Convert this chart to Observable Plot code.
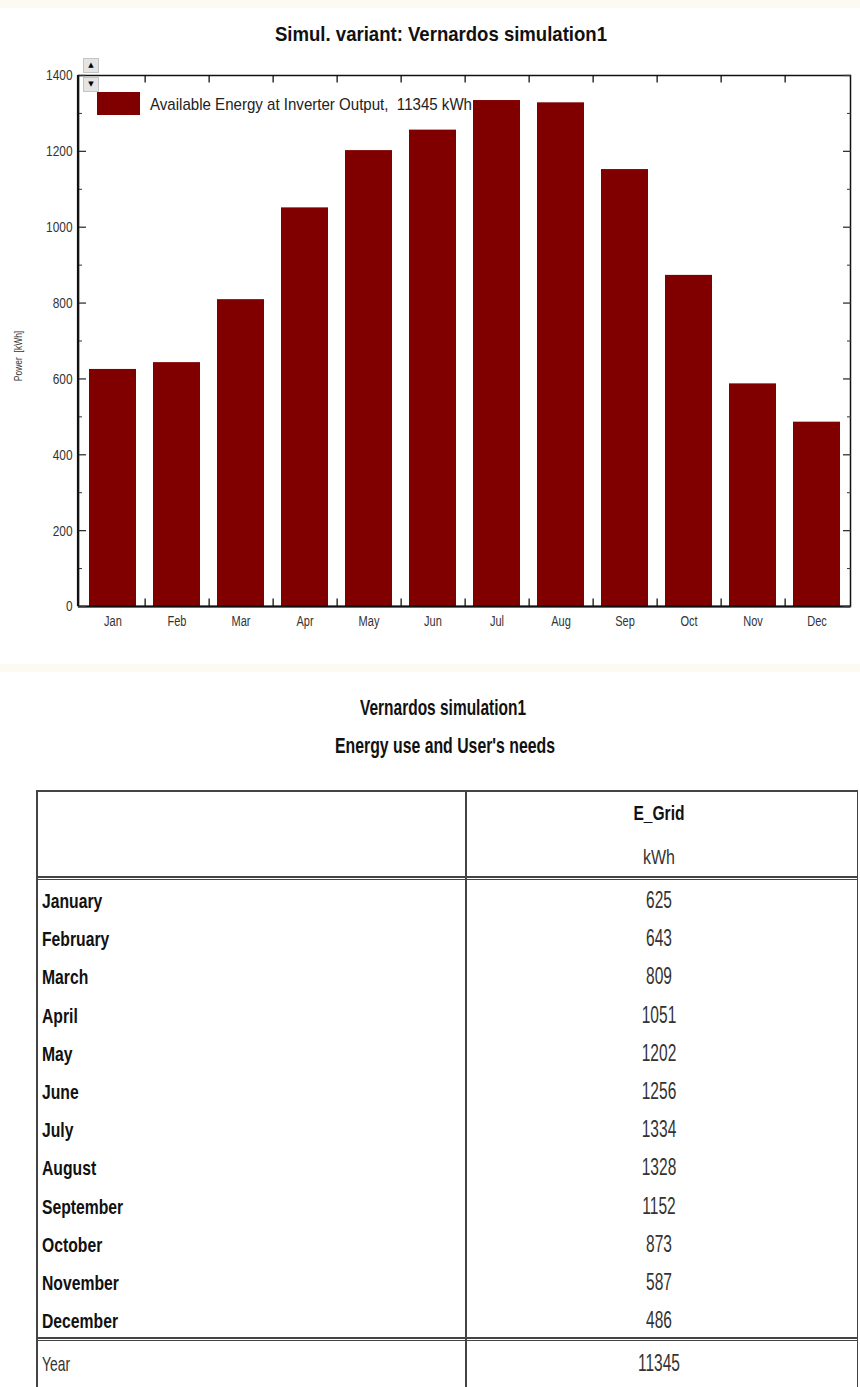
<!DOCTYPE html>
<html>
<head>
<meta charset="utf-8">
<script src="https://cdn.jsdelivr.net/npm/d3@7"></script>
<script src="https://cdn.jsdelivr.net/npm/@observablehq/plot@0.6"></script>
<style>
  html, body { margin: 0; padding: 0; background: #fff; width: 860px; height: 1387px; overflow: hidden; }
  #page { position: relative; width: 860px; height: 1387px; font-family: "Liberation Sans", Arial, sans-serif; }
  .band { position: absolute; left: 0; width: 860px; height: 8px; background: #fcfaf1; }
  #chart { position: absolute; left: 0; top: 50px; }
  .sw { position: absolute; left: 97px; top: 92px; width: 43px; height: 23px; background: #800000; }
  .btn { position: absolute; left: 83px; width: 16px; height: 15px; background: #e4e4e4; border: 1px solid #c4c4c4; box-sizing: border-box; font-size: 7px; line-height: 13px; text-align: center; color: #000; font-family: "DejaVu Sans", sans-serif; }
  .t { position: absolute; white-space: pre; line-height: 1; }
  .ln { position: absolute; background: #444; }
</style>
</head>
<body>
<div id="page">
  <div class="band" style="top:0"></div>
  <div id="chart"></div>
  <div class="btn" style="top:58px">&#9650;</div>
  <div class="btn" style="top:77px">&#9660;</div>
  <div class="sw"></div>
  <div class="band" style="top:664px"></div>
</div>
<script>
// ---- data ----
const chartTitle = "Simul. variant: Vernardos simulation1";
const legendLabel = "Available Energy at Inverter Output,  11345 kWh";
const yLabel = "Power  [kWh]";
const months = ["Jan","Feb","Mar","Apr","May","Jun","Jul","Aug","Sep","Oct","Nov","Dec"];
const monthNames = ["January","February","March","April","May","June","July","August","September","October","November","December"];
const eGrid = [625, 643, 809, 1051, 1202, 1256, 1334, 1328, 1152, 873, 587, 486];
const yearTotal = 11345;
const yMajor = [0, 200, 400, 600, 800, 1000, 1200, 1400];
const yMinor = [100, 300, 500, 700, 900, 1100, 1300];
const tableTitle = "Vernardos simulation1";
const tableSubtitle = "Energy use and User's needs";
const colHeader = "E_Grid";
const colUnit = "kWh";
const yearLabel = "Year";

const page = document.getElementById("page");

// text helper: places real text, optionally condensed to a target width
function measure(text, size, weight) {
  const s = document.createElement("span");
  s.className = "t";
  s.style.fontSize = size + "px";
  s.style.fontWeight = weight;
  s.style.visibility = "hidden";
  s.textContent = text;
  page.appendChild(s);
  const w = s.getBoundingClientRect().width;
  s.remove();
  return w;
}
function place(text, {x, y, size, weight = "normal", align = "center", sx = 1, color = "#111"}) {
  const s = document.createElement("span");
  s.className = "t";
  s.textContent = text;
  s.style.fontSize = size + "px";
  s.style.fontWeight = weight;
  s.style.color = color;
  s.style.left = x + "px";
  s.style.top = y + "px";
  if (align === "center") {
    s.style.transform = `translate(-50%, -50%) scaleX(${sx})`;
    s.style.transformOrigin = "50% 50%";
  } else {
    s.style.transform = `translateY(-50%) scaleX(${sx})`;
    s.style.transformOrigin = "0 50%";
  }
  page.appendChild(s);
  return s;
}
function fit(text, target, size, weight) { return target / measure(text, size, weight); }
function line(x, y, w, h) {
  const d = document.createElement("div");
  d.className = "ln";
  Object.assign(d.style, {left: x + "px", top: y + "px", width: w + "px", height: h + "px"});
  page.appendChild(d);
}

// ---- titles ----
place(chartTitle, {x: 441, y: 33, size: 21, weight: "bold", sx: fit(chartTitle, 332, 21, "bold")});
place(legendLabel, {x: 150, y: 104, size: 17, align: "left", color: "#222", sx: fit(legendLabel, 322, 17, "normal")});

// ---- chart ----
const data = months.map((m, i) => ({month: m, value: eGrid[i]}));
const W = 860, H = 590, ML = 78, MR = 10, MT = 25, MB = 34;
const pIn = 0.27, pOut = 0.14;
const step = (W - ML - MR) / (months.length - pIn + 2 * pOut);

const chart = Plot.plot({
  width: W, height: H,
  marginLeft: ML, marginRight: MR, marginTop: MT, marginBottom: MB,
  style: {fontFamily: '"Liberation Sans", Arial, sans-serif', fontSize: "14px", color: "#333", background: "transparent", overflow: "visible"},
  x: {domain: months, paddingInner: pIn, paddingOuter: pOut, label: null},
  y: {domain: [0, 1400], label: null},
  marks: [
    Plot.barY(data, {x: "month", y: "value", fill: "#800000"}),
    Plot.frame({stroke: "#111", strokeWidth: 1.5}),
    Plot.ruleY([0], {stroke: "#111", strokeWidth: 2}),
    Plot.axisX({tickSize: 0, tickPadding: 9, label: null, fill: "#333", fontSize: 13}),
    Plot.axisY({ticks: yMajor, tickSize: -8, tickPadding: 14, tickFormat: d => String(d), label: null, fill: "#333", strokeWidth: 1.3}),
    Plot.axisY({ticks: yMinor, tickSize: -4, tickFormat: () => "", label: null}),
    Plot.axisY({ticks: yMajor, anchor: "right", tickSize: -8, tickFormat: () => "", label: null, strokeWidth: 1.3}),
    Plot.axisY({ticks: yMinor, anchor: "right", tickSize: -4, tickFormat: () => "", label: null}),
    Plot.ruleX(months.slice(0, -1), {x: d => d, y1: 0, y2: 20, dx: step / 2, stroke: "#111", strokeWidth: 1.3}),
    Plot.ruleX(months.slice(0, -1), {x: d => d, y1: 1380, y2: 1400, dx: step / 2, stroke: "#111", strokeWidth: 1.3}),
    Plot.text([yLabel], {text: d => d, frameAnchor: "left", textAnchor: "middle", dx: -60, dy: 15, rotate: -90, fontSize: 10, fill: "#333"})
  ]
});
document.getElementById("chart").appendChild(chart);
{
  const s = d3.select(chart);
  s.append("line").attr("x1", ML).attr("x2", ML).attr("y1", MT).attr("y2", H - MB)
    .attr("stroke", "#111").attr("stroke-width", 2.2);
  // condense tick labels slightly, like the reference
  s.selectAll('g[aria-label$="tick label"] text').each(function() {
    const tr = this.getAttribute("transform") || "";
    this.setAttribute("transform", tr + " scale(0.85,1.1)");
  });
  s.selectAll('g[aria-label="text"] text').each(function() {
    const tr = this.getAttribute("transform") || "";
    this.setAttribute("transform", tr + " scale(0.85,1.1)");
  });
}

// ---- table headings ----
place(tableTitle, {x: 443, y: 708, size: 22, weight: "bold", sx: fit(tableTitle, 166, 22, "bold")});
place(tableSubtitle, {x: 445, y: 746, size: 22, weight: "bold", sx: fit(tableSubtitle, 220, 22, "bold")});

// ---- table ----
const TL = 36, TR = 858, TT = 790, DIV = 465;
const rowY0 = 900, rowStep = 38.2;
const sepY = 876, yearSepY = 1337;
// borders
line(TL, TT, TR - TL, 1.5);
line(TL, TT, 1.5, 1387 - TT);
line(TR - 1.5, TT, 1.5, 1387 - TT);
line(DIV, TT, 1.5, 1387 - TT);
line(TL, sepY, TR - TL, 1.5);
line(TL, sepY + 3, TR - TL, 1);
line(TL, yearSepY, TR - TL, 1.5);
line(TL, yearSepY + 3, TR - TL, 1);

const colC = 659;
place(colHeader, {x: colC, y: 813, size: 20, weight: "bold", sx: fit(colHeader, 51, 20, "bold")});
place(colUnit, {x: colC, y: 857, size: 20, color: "#333", sx: fit(colUnit, 32, 20, "normal")});

const sMonth = fit("December", 76, 21, "bold");
const sVal = fit(String(yearTotal), 42, 23, "normal");
monthNames.forEach((m, i) => {
  const y = rowY0 + i * rowStep;
  place(m, {x: 42, y, size: 21, weight: "bold", align: "left", sx: sMonth});
  place(String(eGrid[i]), {x: colC, y, size: 23, color: "#333", sx: sVal});
});
place(yearLabel, {x: 42, y: 1363, size: 21, align: "left", color: "#333", sx: fit(yearLabel, 28, 21, "normal")});
place(String(yearTotal), {x: colC, y: 1363, size: 23, color: "#333", sx: sVal});
</script>
</body>
</html>
